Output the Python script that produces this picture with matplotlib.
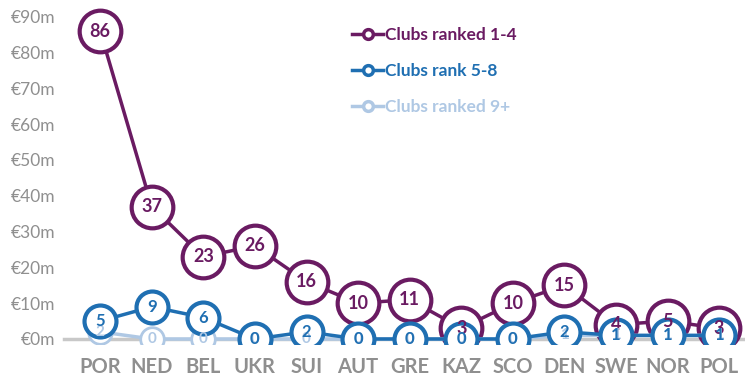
import numpy as np
import matplotlib.pyplot as plt
from matplotlib.ticker import FuncFormatter

countries = ["POR", "NED", "BEL", "UKR", "SUI", "AUT", "GRE", "KAZ", "SCO", "DEN", "SWE", "NOR", "POL"]
top4 = [86, 37, 23, 26, 16, 10, 11, 3, 10, 15, 4, 5, 3]
rank5_8 = [5, 9, 6, 0, 2, 0, 0, 0, 0, 2, 1, 1, 1]
rank9 = [2, 0, 0, 0, 0, 0, 0, 0, 0, 1, 1, 1, 1]

plt.rcParams['font.family'] = ['Lato', 'DejaVu Sans']

purple = "#6a1b62"
blue = "#1f6fb2"
light = "#afc8e4"

x = np.arange(len(countries))

fig = plt.figure(figsize=(7.45, 3.78), dpi=100)
ax = fig.add_axes([0.086, 0.089, 0.914, 0.895])

# spine setup first: moving the spine resets the tick objects
for s in ["top", "right", "left"]:
    ax.spines[s].set_visible(False)
ax.spines["bottom"].set_position(("data", 0))
ax.spines["bottom"].set_color("#c8c8c8")
ax.spines["bottom"].set_linewidth(2.5)
ax.spines["bottom"].set_zorder(1)

series = [
    (top4, purple, "Clubs ranked 1-4", 30, 3.0, 2.5, 2, 13),
    (rank9, light, "Clubs ranked 9+", 17, 2.0, 2.5, 3, 11),
    (rank5_8, blue, "Clubs rank 5-8", 23, 3.0, 2.5, 4, 12),
]
handles = {}
for vals, col, name, ms, mew, lw, z, fs in series:
    ln, = ax.plot(x, vals, color=col, lw=lw, marker="o", ms=ms, mfc="white",
                  mec=col, mew=mew, zorder=z, label=name)
    handles[name] = ln
    for xi, v in zip(x, vals):
        ax.text(xi, v, str(v), ha="center", va="center", color=col,
                fontsize=fs, fontweight="bold", zorder=10 + z)

# legend with small markers
order = ["Clubs ranked 1-4", "Clubs rank 5-8", "Clubs ranked 9+"]
leg_h = []
for name in order:
    h = handles[name]
    leg_h.append(plt.Line2D([], [], color=h.get_color(), lw=2.5, marker="o", ms=7,
                            mfc="white", mec=h.get_color(), mew=2.5))
leg = ax.legend(leg_h, order, loc="upper left", bbox_to_anchor=(0.4, 0.985),
                frameon=False, handlelength=1.8, handletextpad=0.1,
                labelspacing=1.15, prop={"weight": "bold", "size": 12.5})
for t, name in zip(leg.get_texts(), order):
    t.set_color(handles[name].get_color())

ax.set_xlim(-0.7, 12.5)
ax.set_ylim(-1.5, 93)
ax.set_yticks(np.arange(0, 91, 10))
ax.yaxis.set_major_formatter(FuncFormatter(lambda v, p: "€%dm" % v))
ax.tick_params(axis="y", labelsize=12.5, labelcolor="#8f8f8f", length=0, pad=6)
ax.tick_params(axis="x", labelsize=14.5, labelcolor="#8f8f8f", length=0, pad=13)
ax.set_xticks(x)
ax.set_xticklabels(countries, fontweight="bold")

fig.savefig("out.png", dpi=100)
